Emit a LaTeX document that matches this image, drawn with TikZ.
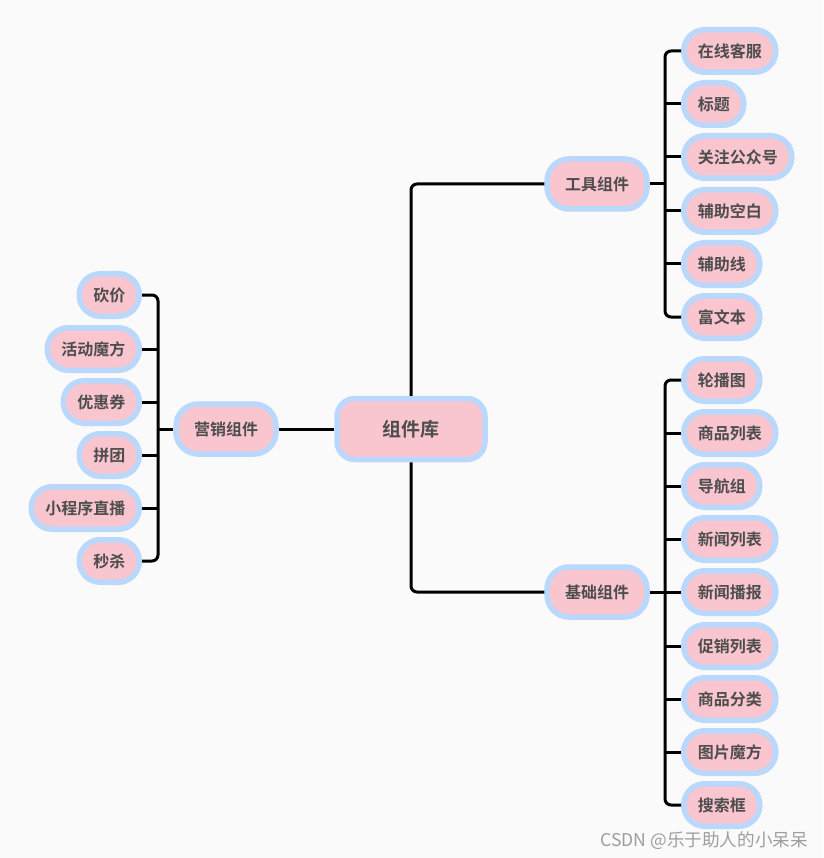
\documentclass[tikz,border=0pt]{standalone}
\usepackage{fontspec}
\setmainfont{Noto Sans CJK SC}[BoldFont={Noto Sans CJK SC Bold}]
\definecolor{bg}{HTML}{FAFAFA}
\definecolor{nodeblue}{HTML}{BAD8FB}
\definecolor{nodepink}{HTML}{F9C6D0}
\definecolor{txt}{HTML}{4D4D4D}
\definecolor{wm}{HTML}{9E9E9E}
\tikzset{
  box/.style={draw=nodeblue, fill=nodepink, line width=5.5pt, text=txt,
    font=\bfseries\fontsize{16}{18}\selectfont, inner sep=0pt},
  leaf/.style={box, rounded corners=21pt, minimum height=42.5pt, inner xsep=14pt},
  mid/.style={box, rounded corners=22pt, minimum height=50pt, minimum width=100pt},
  rootbox/.style={box, rounded corners=18pt, minimum width=148pt, minimum height=61pt,
    font=\bfseries\fontsize{19}{22}\selectfont},
  conn/.style={line width=3pt, rounded corners=6pt, black},
  rleaf/.style={leaf, anchor=west},
  lleaf/.style={leaf, anchor=east},
}
\begin{document}
\begin{tikzpicture}[x=1pt,y=-1pt]
\fill[bg] (0,0) rectangle (823,858);
\useasboundingbox (0,0) rectangle (823,858);

% nodes
\node[rootbox] (root) at (411,429) {组件库};
\node[mid] (tool) at (597,184) {工具组件};
\node[mid] (base) at (597,592) {基础组件};
\node[mid] (mkt) at (226,429) {营销组件};

% tool leaves
\node[rleaf] (t1) at (681,51) {在线客服};
\node[rleaf] (t2) at (681,104) {标题};
\node[rleaf] (t3) at (681,157) {关注公众号};
\node[rleaf] (t4) at (681,211) {辅助空白};
\node[rleaf] (t5) at (681,264) {辅助线};
\node[rleaf] (t6) at (681,317) {富文本};

% base leaves
\node[rleaf] (b1) at (681,380) {轮播图};
\node[rleaf] (b2) at (681,433) {商品列表};
\node[rleaf] (b3) at (681,486) {导航组};
\node[rleaf] (b4) at (681,539) {新闻列表};
\node[rleaf] (b5) at (681,592) {新闻播报};
\node[rleaf] (b6) at (681,646) {促销列表};
\node[rleaf] (b7) at (681,699) {商品分类};
\node[rleaf] (b8) at (681,752) {图片魔方};
\node[rleaf] (b9) at (681,805) {搜索框};

% marketing leaves
\node[lleaf] (m1) at (142,295) {砍价};
\node[lleaf] (m2) at (142,349) {活动魔方};
\node[lleaf] (m3) at (142,402) {优惠券};
\node[lleaf] (m4) at (142,455) {拼团};
\node[lleaf] (m5) at (142,508) {小程序直播};
\node[lleaf] (m6) at (142,561) {秒杀};

% junction coordinates
\coordinate (tj) at (665,184);
\coordinate (bj) at (665,592);
\coordinate (mj) at (158,429);

% root connectors
\draw[conn] (root.north) |- (tool.west);
\draw[conn] (root.south) |- (base.west);
\draw[conn] (root.west) -- (mkt.east);

% tool connectors
\draw[conn] (tool.east) -- (tj);
\draw[conn] (t1.west) -| (tj) |- (t6.west);
\foreach \n in {t2,t3,t4,t5} \draw[conn] (tj |- \n.west) -- (\n.west);

% base connectors
\draw[conn] (base.east) -- (bj);
\draw[conn] (b1.west) -| (bj) |- (b9.west);
\foreach \n in {b2,b3,b4,b5,b6,b7,b8} \draw[conn] (bj |- \n.west) -- (\n.west);

% marketing connectors
\draw[conn] (mkt.west) -- (mj);
\draw[conn] (m1.east) -| (mj) |- (m6.east);
\foreach \n in {m2,m3,m4,m5} \draw[conn] (mj |- \n.east) -- (\n.east);

% watermark
\node[anchor=east, text=wm, font=\fontsize{17.6}{19}\selectfont, inner sep=0pt] (wmk) at (808,841) {CSDN @乐于助人的小呆呆};
\end{tikzpicture}
\end{document}
